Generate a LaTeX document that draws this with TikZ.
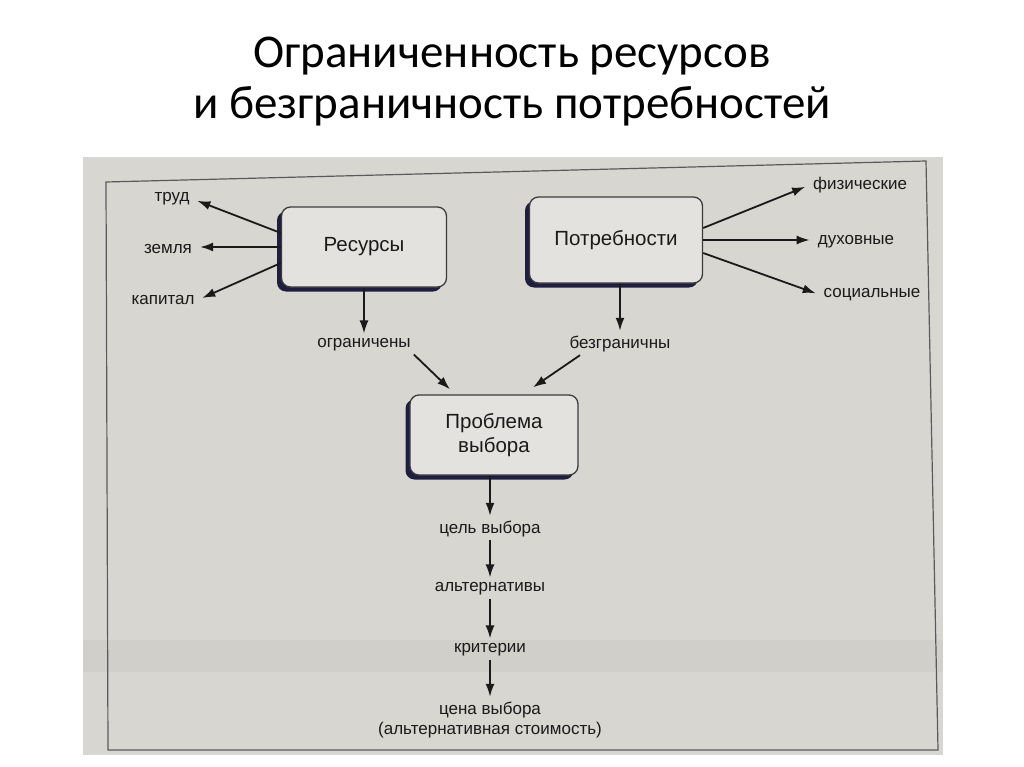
\documentclass[tikz,border=0pt]{standalone}
\usepackage{fontspec}
\setmainfont{Liberation Sans}
\newfontfamily\titlefont{Carlito}
\usetikzlibrary{arrows.meta,shadows}
\definecolor{page}{HTML}{D8D6D1}
\definecolor{band}{HTML}{D1CFCA}
\definecolor{boxfill}{HTML}{E3E2DE}
\definecolor{ink}{HTML}{1A1A1A}
\definecolor{navy}{HTML}{1E1E40}
\definecolor{framec}{HTML}{5A5A5A}
\tikzset{
  lbl/.style={text=ink, inner sep=3pt, font=\fontsize{17}{20}\selectfont},
  mainbox/.style={draw=ink!85, line width=1.3pt, fill=boxfill, rounded corners=9pt,
    text=ink, font=\fontsize{20.5}{24}\selectfont, align=center,
    general shadow={fill=navy, shadow xshift=-4.5pt, shadow yshift=-4.5pt}},
  arr/.style={draw=ink, line width=1.8pt, -{Latex[length=13pt,width=9pt]}, shorten >=5pt},
  ttl/.style={font=\titlefont\fontsize{47}{56}\selectfont, text=black, inner sep=0pt}
}
\begin{document}
\begin{tikzpicture}[x=1pt,y=-1pt]
\useasboundingbox (0,0) rectangle (1024,767);
\fill[white] (0,0) rectangle (1024,767);
% title
\node[ttl] (t1) at (512,56) {Ограниченность ресурсов};
\node[ttl] (t2) at (512,106) {и безграничность потребностей};
% photo of page
\fill[page] (83,157) rectangle (943,755);
\fill[band] (83,640) rectangle (943,672);
\draw[framec, line width=1.2pt] (106,182) -- (926,161) -- (938,750) -- (108,750) -- cycle;
% boxes
\node[mainbox, minimum width=165pt, minimum height=80pt] (res) at (364,247) {Ресурсы};
\node[mainbox, minimum width=173pt, minimum height=86pt] (pot) at (616,240) {Потребности};
\node[mainbox, minimum width=168pt, minimum height=80pt] (prob) at (494,435) {Проблема\\выбора};
% labels
\node[lbl] (trud) at (172,199) {труд};
\node[lbl] (zem) at (168,249) {земля};
\node[lbl] (kap) at (163,300) {капитал};
\node[lbl] (ogr) at (364,345) {ограничены};
\node[lbl] (fiz) at (860,185) {физические};
\node[lbl] (duh) at (856,242) {духовные};
\node[lbl] (soc) at (872,295) {социальные};
\node[lbl] (bez) at (620,344) {безграничны};
\node[lbl] (cel) at (490,529) {цель выбора};
\node[lbl] (alt) at (490,589) {альтернативы};
\node[lbl] (krit) at (490,650) {критерии};
\node[lbl, align=center] (cena) at (490,720) {цена выбора\\(альтернативная стоимость)};
% connectors
\draw[arr] ([yshift=14pt]res.west) -- (trud.east);
\draw[arr] (res.west) -- (res.west -| zem.east);
\draw[arr] ([yshift=-16pt]res.west) -- (kap.east);
\draw[arr, shorten >=2pt] (res.south) -- (ogr.north);
\draw[arr, shorten >=0pt] (ogr.south east) -- ([xshift=-44pt,yshift=5pt]prob.north);
\draw[arr] ([yshift=12pt]pot.east) -- (fiz.west);
\draw[arr] (pot.east) -- (pot.east -| duh.west);
\draw[arr] ([yshift=-13pt]pot.east) -- (soc.west);
\draw[arr, shorten >=2pt] (bez.north |- pot.south) -- (bez.north);
\draw[arr, shorten >=0pt] ([xshift=-40pt]bez.south) -- ([xshift=39pt,yshift=7pt]prob.north);
\draw[arr, shorten >=2pt] (cel.north |- prob.south) -- (cel.north);
\draw[arr, shorten >=2pt] (cel.south) -- (alt.north);
\draw[arr, shorten >=2pt] (alt.south) -- (krit.north);
\draw[arr, shorten >=2pt] (krit.south) -- (cena.north);
\end{tikzpicture}
\end{document}
